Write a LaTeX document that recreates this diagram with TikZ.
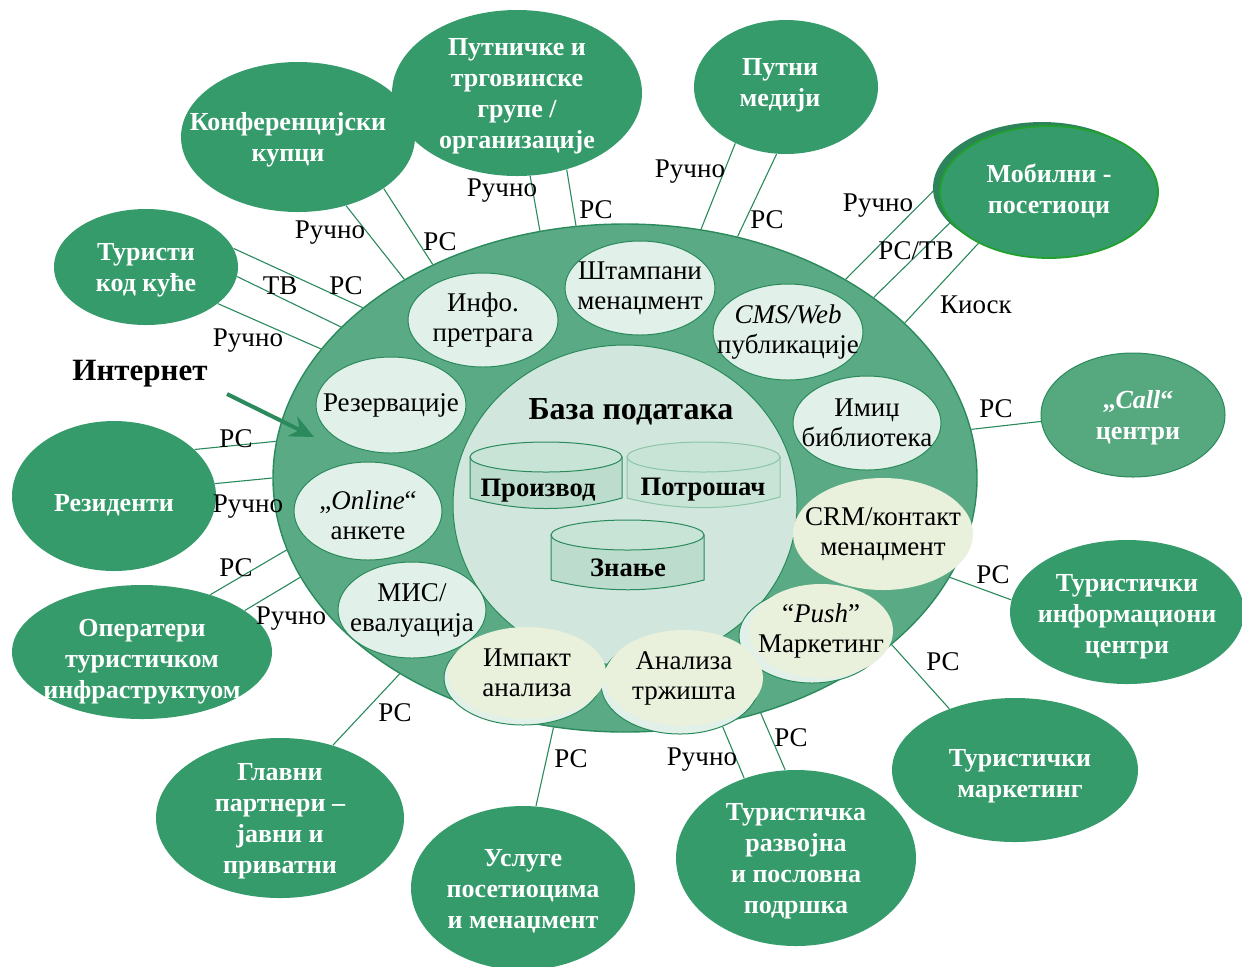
\documentclass[tikz,border=0pt]{standalone}
\usepackage{fontspec}
\setmainfont{Liberation Serif}
\usetikzlibrary{shapes.geometric,arrows.meta}
\pgfdeclarelayer{bg}
\pgfsetlayers{bg,main}
\definecolor{dg}{HTML}{359B6B}
\definecolor{mg}{HTML}{5AAB85}
\definecolor{bd}{HTML}{2A8A5C}
\definecolor{ic}{HTML}{D1E7DD}
\definecolor{lt}{HTML}{E2F0EA}
\definecolor{yl}{HTML}{E9F0DC}
\definecolor{cg}{HTML}{56A87F}
\definecolor{cyl}{HTML}{BCDDCD}
\definecolor{cylt}{HTML}{C8E4D6}
\definecolor{cylb}{HTML}{8CC5A8}
\definecolor{mobb}{HTML}{22A02E}
\tikzset{
 ell/.style 2 args={ellipse, inner sep=0pt, minimum width=#1pt, minimum height=#2pt},
 outer/.style={fill=dg, draw=none},
 ot/.style={text=white, font=\fontsize{13}{15.5}\selectfont\bfseries, align=center, inner sep=0pt, yshift=-1.5pt},
 it/.style={text=black, font=\fontsize{13.5}{15}\selectfont, align=center, inner sep=0pt},
 inner/.style={fill=lt, draw=bd, line width=0.5pt},
 yel/.style={fill=yl, draw=none},
 shad/.style={fill=lt, draw=bd, line width=0.5pt},
 conn/.style={draw=bd, line width=0.55pt},
 lbl/.style={font=\fontsize{13.5}{15}\selectfont, inner sep=0pt, yshift=-1pt},
 cylbody/.style={fill=cyl, draw=bd, line width=0.5pt},
 cyltop/.style={fill=cylt, draw=bd, line width=0.5pt},
 cyltxt/.style={font=\fontsize{13.3}{15}\selectfont\bfseries, inner sep=0pt},
}
\begin{document}
\begin{tikzpicture}[x=0.5pt,y=-0.5pt]
\useasboundingbox (0,0) rectangle (1242,966);

% main ellipse and data base circle
\node[ell={352}{254}, fill=mg, draw=bd, line width=0.7pt] (main) at (625,478) {};
\node[ell={172}{160}, fill=ic, draw=bd, line width=0.5pt] (db) at (625,505) {};
\node[font=\fontsize{16}{18}\selectfont\bfseries, inner sep=0pt] (dbt) at (631,412) {База података};

% cylinders
\path[cylbody] (470,457) -- (470,498) .. controls (520,512) and (572,512) .. (622,498) -- (622,457) -- cycle;
\draw[cyltop] (546,457) ellipse [x radius=76, y radius=15];
\path[cylbody, fill=cylt, draw=cylb] (627,457) -- (627,498) .. controls (678,511) and (730,511) .. (780,497) -- (780,457) -- cycle;
\draw[cyltop, fill=cylt, draw=cylb] (703.5,457) ellipse [x radius=76.5, y radius=15];
\path[cylbody] (551,535) -- (551,580) .. controls (602,593) and (654,593) .. (704,580) -- (704,535) -- cycle;
\draw[cyltop] (627.5,535) ellipse [x radius=76.5, y radius=15];
\node[cyltxt] (c1) at (538,491) {Производ};
\node[cyltxt] (c2) at (703,490) {Потрошач};
\node[cyltxt] (c3) at (628,568) {Знање};

% inner ellipses
\node[ell={75}{47}, inner, label={[it]center:Инфо.\\претрага}] (info) at (483,320) {};
\node[ell={75}{47}, inner, label={[it]center:Штампани\\менаџмент}] (stamp) at (640,288) {};
\node[ell={75}{48}, inner, label={[it]center:\textit{CMS/Web}\\публикације}] (cms) at (788,332) {};
\node[ell={74}{47}, inner, label={[it]center:Имиџ\\библиотека}] (imid) at (867,423) {};
\node[ell={90}{56}, yel, label={[it]center:CRM/контакт\\менаџмент}] (crm) at (883,534) {};
\node[ell={73}{47}, shad] (pushS) at (812,636) {};
\node[ell={72}{47}, yel, label={[it]center:“\textit{Push}”\\Маркетинг}] (push) at (821,631) {};
\node[ell={79}{50}, shad] (analS) at (680,684) {};
\node[ell={79}{48}, yel, label={[it]center:Анализа\\тржишта}] (anal) at (684,678) {};
\node[ell={79}{47}, shad] (impS) at (523,678) {};
\node[ell={79}{46}, yel, label={[it]center:Импакт\\анализа}] (imp) at (527,673) {};
\node[ell={74}{48}, inner, label={[it]center:МИС/\\евалуација}] (mis) at (412,610) {};
\node[ell={74}{49}, inner, label={[it, yshift=-2pt]center:„\textit{Online}“\\анкете}] (onl) at (368,511) {};
\node[ell={75}{48}, inner, label={[it]center:Резервације}] (rezv) at (391,405) {};

% outer ellipses
\node[ell={117}{75}, outer, label={[ot,xshift=-5pt]center:Конференцијски\\купци}] (konf) at (298,137) {};
\node[ell={125}{83}, outer, label={[ot]center:Путничке и\\трговинске\\групе /\\организације}] (putn) at (517,93) {};
\node[ell={92}{67}, outer, label={[ot,xshift=-3pt,yshift=2.5pt]center:Путни\\медији}] (pmed) at (786,87) {};
\node[ell={109}{66}, fill=dg!85!black, draw=none] (mobS) at (1042,188) {};
\node[ell={109}{66}, outer, draw=mobb, line width=0.9pt, label={[ot,yshift=2pt]center:Мобилни -\\посетиоци}] (mob) at (1049,192) {};
\node[ell={92}{58}, outer, label={[ot]center:Туристи\\код куће}] (tkk) at (146,267) {};
\node[ell={92}{62}, fill=cg, draw=bd, line width=0.5pt, label={[ot,xshift=2.5pt]center:„\textit{Call}“\\центри}] (call) at (1133,415) {};
\node[ell={102}{75}, outer, label={[ot,yshift=-3pt]center:Резиденти}] (rez) at (114,496) {};
\node[ell={117}{72}, outer, label={[ot,yshift=-1pt]center:Туристички\\информациони\\центри}] (tic) at (1127,612) {};
\node[ell={130}{67}, outer, label={[ot,yshift=-3.5pt]center:Оператери\\туристичком\\инфраструктуом}] (oper) at (142,652) {};
\node[ell={123}{72}, outer, label={[ot,xshift=2.5pt,yshift=-1.5pt]center:Туристички\\маркетинг}] (tm) at (1015,770) {};
\node[ell={124}{80}, outer, label={[ot]center:Главни\\партнери –\\јавни и\\приватни}] (gp) at (280,818) {};
\node[ell={112}{82}, outer, label={[ot]center:Услуге\\посетиоцима\\и менаџмент}] (usl) at (523,888) {};
\node[ell={120}{88}, outer, label={[ot]center:Туристичка\\развојна\\и пословна\\подршка}] (trp) at (796,858) {};

% connectors
\begin{pgfonlayer}{bg}
\draw[conn] (konf.-55.4) -- (main.138.9);
\draw[conn] (konf.-31.4) -- (main.132.8);
\draw[conn] (putn.-81.8) -- (main.109.2);
\draw[conn] (putn.-57.8) -- (main.101.5);
\draw[conn] (pmed.-132.9) -- (main.73.1);
\draw[conn] (pmed.-98.5) -- (main.65.4);
\draw[conn] (mob.176.3) -- (main.42.7);
\draw[conn] (mob.197.9) -- (main.36.5);
\draw[conn] (mob.216.7) -- (main.29.7);
\draw[conn] (tkk.12.1) -- (main.147.0);
\draw[conn] (tkk.-6.9) -- (main.152.4);
\draw[conn] (tkk.-27.8) -- (main.157.2);
\draw[conn] (rez.30) -- (main.174.3);
\draw[conn] (rez.7) -- (main.180.5);
\draw[conn] (call.184.4) -- (main.8.2);
\draw[conn] (oper.40.1) -- (main.192.6);
\draw[conn] (oper.22.8) -- (main.197.5);
\draw[conn] (tic.174.0) -- (main.-17.2);
\draw[conn] (tm.137.6) -- (main.-32.2);
\draw[conn] (gp.54.6) -- (main.221.5);
\draw[conn] (usl.81.0) -- (main.-106.1);
\draw[conn] (trp.123.5) -- (analS.-45);
\draw[conn] (trp.97.8) -- (main.-60.4);
\end{pgfonlayer}

% connector labels
\node[lbl] (l1) at (330,231) {Ручно};
\node[lbl] (l2) at (440,240) {РС};
\node[lbl] (l3) at (502,189) {Ручно};
\node[lbl] (l4) at (596,208) {РС};
\node[lbl] (l5) at (690,170) {Ручно};
\node[lbl] (l6) at (767,218) {РС};
\node[lbl] (l7) at (878,204) {Ручно};
\node[lbl] (l8) at (916,249) {РС/ТВ};
\node[lbl] (l9) at (976,303) {Киоск};
\node[lbl] (l10) at (280,284) {ТВ};
\node[lbl] (l11) at (346,284) {РС};
\node[lbl] (l12) at (248,339) {Ручно};
\node[lbl] (l13) at (236,437) {РС};
\node[lbl] (l14) at (248,505) {Ручно};
\node[lbl] (l15) at (996,407) {РС};
\node[lbl] (l16) at (236,566) {РС};
\node[lbl] (l17) at (291,617) {Ручно};
\node[lbl] (l18) at (993,573) {РС};
\node[lbl] (l19) at (943,660) {РС};
\node[lbl] (l20) at (395,711) {РС};
\node[lbl] (l21) at (571,757) {РС};
\node[lbl] (l22) at (702,758) {Ручно};
\node[lbl] (l23) at (791,736) {РС};

% Internet
\node[font=\fontsize{15.5}{17}\selectfont\bfseries, inner sep=0pt] (inet) at (140,374) {Интернет};
\coordinate (ia) at (227,394);
\coordinate (ib) at (314,437);
\draw[draw=bd, line width=2pt, -{Stealth[length=12pt, width=11pt, inset=4pt]}] (ia) -- (ib);
\end{tikzpicture}
\end{document}
